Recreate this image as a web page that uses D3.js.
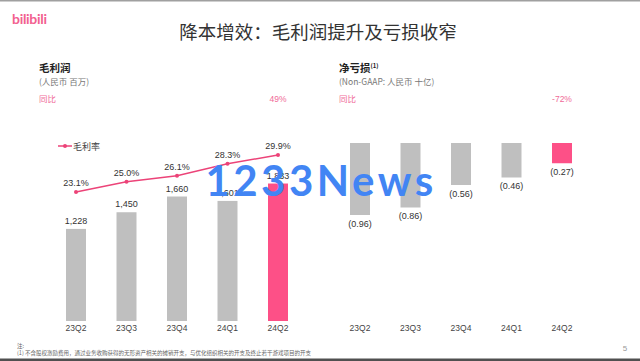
<!DOCTYPE html>
<html><head><meta charset="utf-8">
<script src="https://cdn.jsdelivr.net/npm/d3@7"></script>
<style>
html,body{margin:0;padding:0;background:#fff;}
svg{display:block;font-family:"Noto Sans CJK SC","Noto Sans",sans-serif;}
</style></head>
<body>
<svg id="chart" width="640" height="361"></svg>
<script>
const quarters = ["23Q2","23Q3","23Q4","24Q1","24Q2"];
const grossProfit = [1228, 1450, 1660, 1601, 1833];
const grossProfitLabels = ["1,228","1,450","1,660","1,601","1,833"];
const grossMargin = [23.1, 25.0, 26.1, 28.3, 29.9];
const netLoss = [-0.96, -0.86, -0.56, -0.46, -0.27];
const netLossLabels = ["(0.96)","(0.86)","(0.56)","(0.46)","(0.27)"];
const yoyGross = "49%";
const yoyLoss = "-72%";

const pink = "#fd5087", lineCol = "#ec4378", grey = "#bfbfbf", txt = "#333";
const svg = d3.select("#chart");

// frame lines
svg.append("rect").attr("x",0).attr("y",0).attr("width",640).attr("height",1.5).attr("fill","#a0a0a0");
svg.append("rect").attr("x",0).attr("y",358.5).attr("width",640).attr("height",2.5).attr("fill","#505050");

// logo
svg.append("text").attr("x",12).attr("y",24).attr("font-family","Lato, sans-serif").attr("font-weight","bold")
  .attr("font-size",14).attr("fill","#f2608f").attr("letter-spacing","-0.3").text("bilibili");

// title
svg.append("text").attr("x",318).attr("y",39).attr("text-anchor","middle").attr("font-size",18.5)
  .attr("fill","#333").text("降本增效：毛利润提升及亏损收窄");

// ---------- Left panel ----------
const xL = d3.scaleBand().domain(quarters).range([50.75,303.25]).paddingInner(0.604).paddingOuter(0.302);
const yL = d3.scaleLinear().domain([0,2000]).range([321,171]);
const yM = d3.scaleLinear().domain([20,32]).range([208.9,143.6]);

svg.append("text").attr("x",39).attr("y",72).attr("font-size",10.5).attr("font-weight","bold").attr("fill","#222").text("毛利润");
svg.append("text").attr("x",39).attr("y",84.5).attr("font-size",8.5).attr("fill","#777").text("(人民币 百万)");
svg.append("text").attr("x",39).attr("y",101.5).attr("font-size",8.5).attr("fill","#f06a98").text("同比");
svg.append("text").attr("x",xL("24Q2")+xL.bandwidth()/2).attr("y",101.5).attr("text-anchor","middle")
  .attr("font-family","Liberation Sans, Arial, sans-serif").attr("font-size",8.5).attr("fill","#f06a98").text(yoyGross);

const gL = svg.append("g");
gL.selectAll("rect.bar").data(quarters).join("rect").attr("class","bar")
  .attr("x",d=>xL(d)).attr("width",xL.bandwidth())
  .attr("y",(d,i)=>yL(grossProfit[i])).attr("height",(d,i)=>yL(0)-yL(grossProfit[i]))
  .attr("fill",(d,i)=>i===quarters.length-1?pink:grey);
gL.selectAll("text.val").data(quarters).join("text").attr("class","val")
  .attr("x",d=>xL(d)+xL.bandwidth()/2).attr("y",(d,i)=>yL(grossProfit[i])-5)
  .attr("text-anchor","middle").attr("font-family","Liberation Sans, Arial, sans-serif").attr("font-size",9).attr("fill",txt)
  .text((d,i)=>grossProfitLabels[i]);

const line = d3.line().x((d,i)=>xL(quarters[i])+xL.bandwidth()/2).y(d=>yM(d));
gL.append("path").datum(grossMargin).attr("d",line).attr("fill","none").attr("stroke",lineCol).attr("stroke-width",1.5);
gL.selectAll("circle.pt").data(grossMargin).join("circle").attr("class","pt")
  .attr("cx",(d,i)=>xL(quarters[i])+xL.bandwidth()/2).attr("cy",d=>yM(d)).attr("r",2).attr("fill",lineCol);
gL.selectAll("text.pct").data(grossMargin).join("text").attr("class","pct")
  .attr("x",(d,i)=>xL(quarters[i])+xL.bandwidth()/2).attr("y",d=>yM(d)-6)
  .attr("text-anchor","middle").attr("font-family","Liberation Sans, Arial, sans-serif").attr("font-size",9).attr("fill",txt)
  .text(d=>d.toFixed(1)+"%");

// legend
svg.append("line").attr("x1",58).attr("x2",72).attr("y1",146).attr("y2",146).attr("stroke",lineCol).attr("stroke-width",1.5);
svg.append("circle").attr("cx",65).attr("cy",146).attr("r",2).attr("fill",lineCol);
svg.append("text").attr("x",73).attr("y",149.5).attr("font-size",9).attr("fill","#444").text("毛利率");

// x axis left
const axL = svg.append("g").attr("transform","translate(0,325)")
  .call(d3.axisBottom(xL).tickSize(0).tickPadding(0));
axL.select(".domain").remove();
axL.selectAll("text").attr("font-family","Liberation Sans, Arial, sans-serif").attr("font-size",8.5).attr("fill","#444").attr("dy","0.71em");

// ---------- Right panel ----------
const xR = d3.scaleBand().domain(quarters).range([334.75,587.25]).paddingInner(0.604).paddingOuter(0.302);
const yR = d3.scaleLinear().domain([0,-1]).range([143,218]);

const hdr = svg.append("text").attr("x",339).attr("y",72).attr("font-size",10.5).attr("font-weight","bold").attr("fill","#222");
hdr.append("tspan").text("净亏损");
hdr.append("tspan").attr("font-size",6).attr("dy",-4).text("(1)");
svg.append("text").attr("x",339).attr("y",84.5).attr("font-size",8.5).attr("fill","#777").text("(Non-GAAP: 人民币 十亿)");
svg.append("text").attr("x",339).attr("y",101.5).attr("font-size",8.5).attr("fill","#f06a98").text("同比");
svg.append("text").attr("x",xR("24Q2")+xR.bandwidth()/2).attr("y",101.5).attr("text-anchor","middle")
  .attr("font-family","Liberation Sans, Arial, sans-serif").attr("font-size",8.5).attr("fill","#f06a98").text(yoyLoss);

const gR = svg.append("g");
gR.selectAll("rect.bar").data(quarters).join("rect").attr("class","bar")
  .attr("x",d=>xR(d)).attr("width",xR.bandwidth())
  .attr("y",yR(0)).attr("height",(d,i)=>yR(netLoss[i])-yR(0))
  .attr("fill",(d,i)=>i===quarters.length-1?pink:grey);
gR.selectAll("text.val").data(quarters).join("text").attr("class","val")
  .attr("x",d=>xR(d)+xR.bandwidth()/2).attr("y",(d,i)=>yR(netLoss[i])+11.5)
  .attr("text-anchor","middle").attr("font-family","Liberation Sans, Arial, sans-serif").attr("font-size",9).attr("fill",txt)
  .text((d,i)=>netLossLabels[i]);

const axR = svg.append("g").attr("transform","translate(0,325)")
  .call(d3.axisBottom(xR).tickSize(0).tickPadding(0));
axR.select(".domain").remove();
axR.selectAll("text").attr("font-family","Liberation Sans, Arial, sans-serif").attr("font-size",8.5).attr("fill","#444").attr("dy","0.71em");

// footnote
svg.append("text").attr("x",17).attr("y",347.5).attr("font-size",5.5).attr("fill","#666").text("注:");
svg.append("text").attr("x",17).attr("y",355).attr("font-size",5.5).attr("fill","#666")
  .text("(1)   不含股权激励费用，通过业务收购获得的无形资产相关的摊销开支，与优化组织相关的开支及终止若干游戏项目的开支");
svg.append("text").attr("x",625).attr("y",351).attr("text-anchor","middle").attr("font-family","Liberation Sans, Arial, sans-serif")
  .attr("font-size",8).attr("fill","#999").text("5");

// watermark (overlay on the reference image)
svg.append("text").attr("x",321).attr("y",196).attr("text-anchor","middle").attr("font-family","Lato, sans-serif")
  .attr("font-weight","bold").attr("font-size",42).attr("letter-spacing","3.5").attr("fill","#4285f4").text("1233News");
</script>
</body></html>
